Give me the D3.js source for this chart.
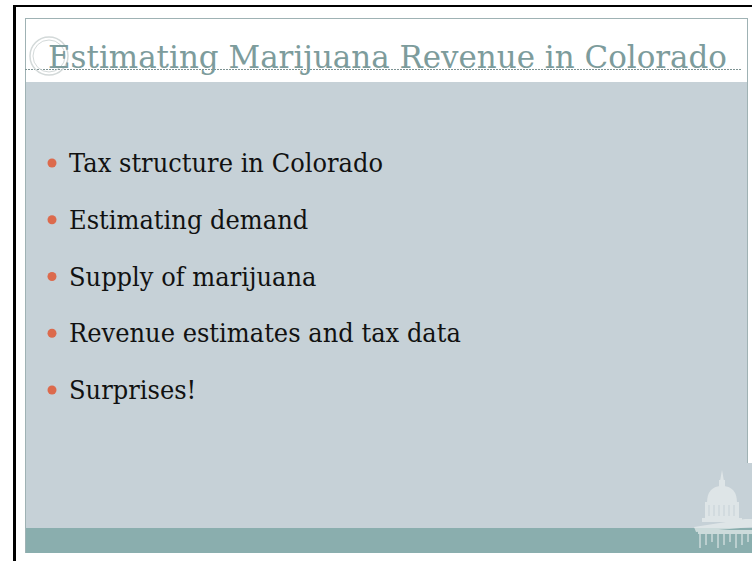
<!DOCTYPE html>
<html>
<head>
<meta charset="utf-8">
<script src="https://cdn.jsdelivr.net/npm/d3@7"></script>
<style>
  html, body { margin: 0; padding: 0; background: #fff; }
  svg { display: block; }
</style>
</head>
<body>
<svg id="slide" width="752" height="561"></svg>
<script>
const title = 'Estimating Marijuana Revenue in Colorado';
const bullets = [
  'Tax structure in Colorado',
  'Estimating demand',
  'Supply of marijuana',
  'Revenue estimates and tax data',
  'Surprises!'
];

const W = 752, H = 561;
const svg = d3.select('#slide');

// outer black frame (cropped screenshot edges)
svg.append('rect').attr('x', 13).attr('y', 5).attr('width', W - 13).attr('height', 2).attr('fill', '#000');
svg.append('rect').attr('x', 13).attr('y', 5).attr('width', 3).attr('height', H - 5).attr('fill', '#000');

// slide body
const slide = { x0: 25, x1: 747, y0: 18, titleEnd: 82, bandTop: 528, bandEnd: 553 };

svg.append('rect')
  .attr('x', slide.x0).attr('y', slide.titleEnd)
  .attr('width', W - slide.x0).attr('height', slide.bandTop - slide.titleEnd)
  .attr('fill', '#c6d1d7');
svg.append('rect')
  .attr('x', slide.x0).attr('y', slide.bandTop)
  .attr('width', W - slide.x0).attr('height', slide.bandEnd - slide.bandTop)
  .attr('fill', '#8aaeae');

// white strip on the right + edge lines
svg.append('rect')
  .attr('x', slide.x1).attr('y', slide.y0)
  .attr('width', W - slide.x1).attr('height', 445)
  .attr('fill', '#fff');
svg.append('line')
  .attr('x1', slide.x0 + 0.5).attr('x2', slide.x1 + 0.5)
  .attr('y1', slide.y0 + 0.5).attr('y2', slide.y0 + 0.5)
  .attr('stroke', '#9fb2b4');
svg.append('line')
  .attr('x1', slide.x0 + 0.5).attr('x2', slide.x0 + 0.5)
  .attr('y1', slide.y0).attr('y2', slide.bandEnd)
  .attr('stroke', '#9fb2b4');
svg.append('line')
  .attr('x1', slide.x1 + 0.5).attr('x2', slide.x1 + 0.5)
  .attr('y1', slide.y0).attr('y2', 463)
  .attr('stroke', '#9fb2b4');

// dashed rule under title
svg.append('line')
  .attr('x1', slide.x0).attr('x2', 741)
  .attr('y1', 69.5).attr('y2', 69.5)
  .attr('stroke', '#7d9292').attr('stroke-dasharray', '2,1');

// double ring ornament
const ring = svg.append('g').attr('fill', 'none').attr('stroke', '#d3d9d9');
ring.append('circle').attr('cx', 49).attr('cy', 56).attr('r', 19).attr('stroke-width', 1.5);
ring.append('circle').attr('cx', 49).attr('cy', 56).attr('r', 16).attr('stroke-width', 1);

// title
svg.append('text')
  .attr('x', 48).attr('y', 68)
  .attr('font-family', 'DejaVu Serif, Georgia, serif')
  .attr('font-size', 32)
  .attr('fill', '#7d9c9c')
  .attr('textLength', 679)
  .attr('lengthAdjust', 'spacingAndGlyphs')
  .text(title);

// bullets
const y = d3.scaleLinear().domain([0, bullets.length - 1]).range([172, 399]);

const rows = svg.append('g').selectAll('g')
  .data(bullets)
  .join('g')
  .attr('transform', (d, i) => `translate(0,${y(i)})`);

rows.append('circle')
  .attr('cx', 52).attr('cy', -9)
  .attr('r', 4.5)
  .attr('fill', '#dc6a4c');

const labels = rows.append('text')
  .attr('x', 69)
  .attr('font-family', 'DejaVu Serif, Georgia, serif')
  .attr('font-size', 26)
  .attr('fill', '#111')
  .text(d => d);

// squeeze uniformly so the first line spans like the reference
const natural = labels.nodes().map(n => n.getComputedTextLength());
const k = 314 / natural[0];
labels.attr('textLength', (d, i) => natural[i] * k).attr('lengthAdjust', 'spacingAndGlyphs');

// capitol dome silhouette, bottom right
const cap = svg.append('g')
  .attr('fill', '#e9eeee')
  .attr('opacity', 0.7);
cap.append('path').attr('d', 'M722,470 L720,481 L724,481 Z');
cap.append('rect').attr('x', 719).attr('y', 480).attr('width', 6).attr('height', 7);
cap.append('path').attr('d', 'M707,503 Q707,486 722,486 Q737,486 737,503 Z');
cap.append('rect').attr('x', 705).attr('y', 502).attr('width', 34).attr('height', 18);
cap.append('rect').attr('x', 702).attr('y', 518).attr('width', 40).attr('height', 4);
cap.append('path').attr('d', 'M694,527 L745,519 L752,519 L752,527 L696,532 Z');
cap.append('rect').attr('x', 698).attr('y', 530).attr('width', 54).attr('height', 4);
const cols = cap.append('g').attr('stroke', '#e9eeee').attr('stroke-width', 1.5);
d3.range(9).forEach(i => {
  cols.append('line')
    .attr('x1', 700 + i * 6).attr('x2', 700 + i * 6)
    .attr('y1', 533).attr('y2', 548 - (i % 3) * 3);
});
const win = svg.append('g').attr('stroke', '#c6d1d7').attr('stroke-width', 1);
d3.range(6).forEach(i => {
  win.append('line')
    .attr('x1', 709 + i * 5).attr('x2', 709 + i * 5)
    .attr('y1', 505).attr('y2', 516);
});
</script>
</body>
</html>
